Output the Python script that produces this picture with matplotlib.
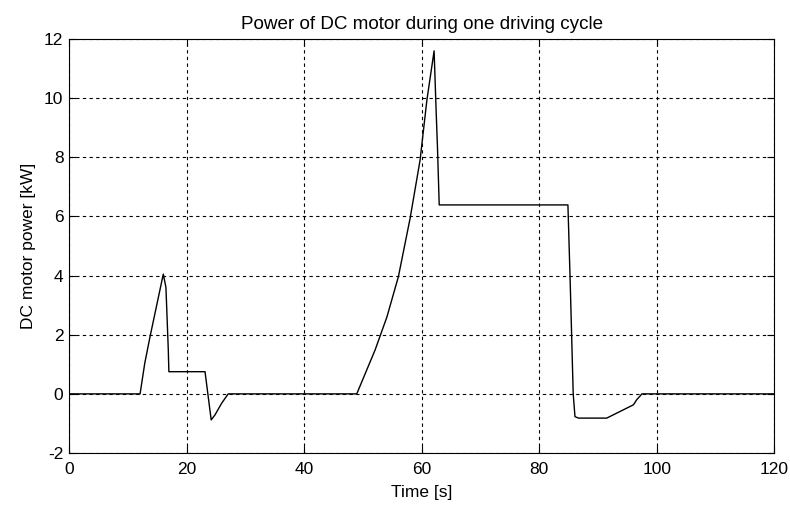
import matplotlib
matplotlib.use('Agg')
import matplotlib.pyplot as plt

# time [s] and DC motor power [kW]
time_s = [0, 12.1, 12.9, 13.8, 16.05, 16.5, 16.9, 17.0, 23.15, 24.2, 24.85, 26.0, 27.1,
          48.97, 52.1, 54.1, 56.05, 58.04, 59.74, 60.9, 62.13, 62.47, 62.7, 63.0,
          84.9, 85.3, 85.8, 86.1, 86.7, 91.5, 96.05, 96.6, 97.5, 120]
power_kw = [0, 0, 1.04, 1.94, 4.05, 3.6, 1.49, 0.75, 0.75, -0.88, -0.71, -0.31, 0,
            0, 1.49, 2.6, 3.96, 5.93, 7.9, 9.93, 11.6, 9.6, 8.36, 6.39,
            6.39, 3.7, 0, -0.77, -0.82, -0.82, -0.37, -0.2, 0, 0]

x_ticks = [0, 20, 40, 60, 80, 100, 120]
y_ticks = [-2, 0, 2, 4, 6, 8, 10, 12]

plt.rcParams['font.family'] = ['Liberation Sans', 'DejaVu Sans']
plt.rcParams['axes.unicode_minus'] = False

fig = plt.figure(figsize=(7.9, 5.07), dpi=100)
ax = fig.add_axes([0.0873, 0.1065, 0.8927, 0.8165])
ax.plot(time_s, power_kw, color='black', linewidth=1.0)

ax.set_xlim(0, 120)
ax.set_ylim(-2, 12)
ax.set_xticks(x_ticks)
ax.set_yticks(y_ticks)
ax.set_xticklabels([str(v) for v in x_ticks])
ax.set_yticklabels([str(v) for v in y_ticks])
ax.tick_params(direction='in', top=True, right=True, length=5, labelsize=12.5)
ax.tick_params(axis='x', pad=6.5)
ax.tick_params(axis='y', pad=4)
ax.grid(True, color='black', linestyle=(0, (3, 3)), linewidth=0.8)
for s in ax.spines.values():
    s.set_linewidth(0.8)

ax.set_title('Power of DC motor during one driving cycle', fontsize=13.6, pad=7)
ax.set_xlabel('Time [s]', fontsize=12.5, labelpad=6)
ax.set_ylabel('DC motor power [kW]', fontsize=12.5, labelpad=6)

fig.savefig('out.png', dpi=100)
